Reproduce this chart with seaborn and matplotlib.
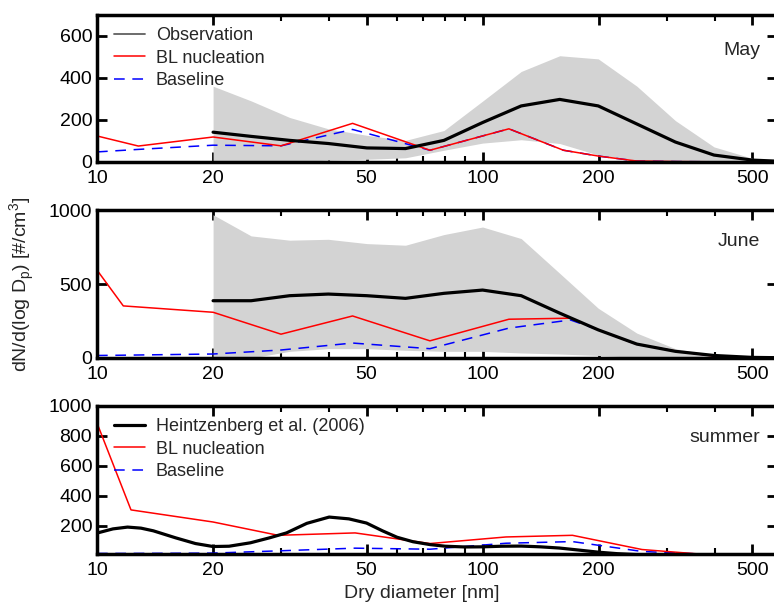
import numpy as np
import pandas as pd
import matplotlib
matplotlib.use('Agg')
import matplotlib.pyplot as plt
from matplotlib.lines import Line2D
from matplotlib.ticker import FixedLocator, NullFormatter, FixedFormatter
import seaborn as sns

sns.set_style('ticks')
plt.rcParams['font.family'] = ['Liberation Sans', 'DejaVu Sans']

# observation grid (May / June)
obs_d = [20, 25.1, 31.6, 39.8, 50.1, 63.1, 79.4, 100, 125.9, 158.5, 199.5, 251.2, 316.2, 398.1, 501.2, 631]

may_obs = [142, 122, 103, 88, 67, 64, 103, 188, 267, 298, 267, 181, 95, 33, 9, 1]
may_hi = [361, 291, 212, 158, 127, 103, 150, 290, 431, 506, 491, 361, 197, 72, 17, 3]
may_lo = [0, 0, 0, 9, 13, 20, 56, 90, 106, 88, 33, 9, 0, 0, 0, 0]
may_d = [10, 12.8, 20, 30, 46, 73, 117, 162, 200, 250, 320, 400, 500, 631]
may_bl = [124, 76, 119, 77, 184, 56, 158, 56, 28, 5, 2, 1, 0, 0]
may_base = [48, 60, 80, 77, 155, 56, 158, 56, 28, 5, 2, 1, 0, 0]

june_obs = [387, 387, 421, 432, 421, 403, 437, 459, 421, 303, 190, 94, 45, 17, 4, 1]
june_hi = [968, 825, 796, 802, 773, 762, 834, 885, 807, 572, 336, 168, 63, 17, 4, 1]
june_lo = [0, 0, 45, 63, 63, 52, 45, 45, 34, 27, 17, 5, 2, 0, 0, 0]
june_d = [10, 11.7, 20, 30, 46, 73, 117, 169, 200, 250, 320, 400, 500, 631]
june_bl = [594, 352, 309, 161, 284, 116, 262, 269, 190, 94, 45, 12, 0, 0]
june_base = [17, 19, 27, 54, 101, 63, 202, 257, 190, 94, 45, 12, 0, 0]

# summer
sum_d = [10, 12.25, 20, 29.5, 46.7, 73, 115, 171, 259, 360]
sum_bl = [886, 305, 224, 135, 151, 80, 124, 135, 40, 11]
sum_base = [14, 14, 16, 31, 49, 42, 82, 93, 27, 11]
heintz_d = [10, 11, 12, 13, 14, 16, 18, 20, 22, 25, 28, 31, 35, 40, 45, 50, 55, 60, 66, 73,
            80, 90, 100, 112, 126, 141, 158, 178, 200, 224, 250]
heintz = [150, 178, 190, 183, 165, 118, 80, 60, 62, 85, 118, 151, 215, 257, 245, 217, 165, 122, 92, 73,
          62, 57, 58, 62, 63, 58, 50, 36, 22, 12, 6]

major_x = [10, 20, 50, 100, 200, 500]
minor_x = [30, 40, 60, 70, 80, 90, 300, 400]

fig = plt.figure(figsize=(7.74, 6.06), dpi=100)
W, H = 774, 606
left = 97 / W
width = 680 / W
ax1 = fig.add_axes([left, 1 - 162 / H, width, 147 / H])
ax2 = fig.add_axes([left, 1 - 358 / H, width, 148 / H])
ax3 = fig.add_axes([left, 1 - 554 / H, width, 148 / H])

gray = '#d3d3d3'
lw_obs = 2.3
lw_mod = 1.1
dash = (0, (7, 5))


def style(ax, ymin, ymax, yticks):
    ax.set_xscale('log')
    ax.set_xlim(10, 580)
    ax.set_ylim(ymin, ymax)
    ax.xaxis.set_major_locator(FixedLocator(major_x))
    ax.xaxis.set_major_formatter(FixedFormatter([str(v) for v in major_x]))
    ax.xaxis.set_minor_locator(FixedLocator(minor_x))
    ax.xaxis.set_minor_formatter(NullFormatter())
    ax.set_yticks(yticks)
    ax.set_yticklabels([str(v) for v in yticks])
    ax.tick_params(which='both', direction='in', top=True, right=True, labelsize=14, colors='black')
    ax.tick_params(which='major', length=7, width=2)
    ax.tick_params(which='minor', length=4, width=1.5)
    ax.tick_params(axis='x', pad=6)
    for s in ax.spines.values():
        s.set_linewidth(2.5)
        s.set_color('black')
    ax.set_xlabel('')
    ax.set_ylabel('')


leg_kw = dict(loc='upper left', frameon=False, fontsize=13, handlelength=1.7, handletextpad=0.6,
              labelspacing=0.3, borderaxespad=0.0, bbox_to_anchor=(0.015, 0.965))

# May
ax1.fill_between(obs_d, may_lo, may_hi, color=gray, lw=0)
sns.lineplot(x=may_d, y=may_base, ax=ax1, color='blue', lw=lw_mod, linestyle=dash)
sns.lineplot(x=may_d, y=may_bl, ax=ax1, color='red', lw=lw_mod)
sns.lineplot(x=obs_d, y=may_obs, ax=ax1, color='black', lw=lw_obs)
style(ax1, 0, 700, [0, 200, 400, 600])
ax1.text(0.975, 0.76, 'May', transform=ax1.transAxes, ha='right', va='center', fontsize=14)
h1 = [Line2D([], [], color='#606060', lw=1.3),
      Line2D([], [], color='red', lw=lw_mod),
      Line2D([], [], color='blue', lw=lw_mod, linestyle=dash)]
ax1.legend(h1, ['Observation', 'BL nucleation', 'Baseline'], **leg_kw)

# June
ax2.fill_between(obs_d, june_lo, june_hi, color=gray, lw=0)
sns.lineplot(x=june_d, y=june_base, ax=ax2, color='blue', lw=lw_mod, linestyle=dash)
sns.lineplot(x=june_d, y=june_bl, ax=ax2, color='red', lw=lw_mod)
sns.lineplot(x=obs_d, y=june_obs, ax=ax2, color='black', lw=lw_obs)
style(ax2, 0, 1000, [0, 500, 1000])
ax2.text(0.975, 0.79, 'June', transform=ax2.transAxes, ha='right', va='center', fontsize=14)

# summer
sns.lineplot(x=sum_d, y=sum_base, ax=ax3, color='blue', lw=lw_mod, linestyle=dash)
sns.lineplot(x=sum_d, y=sum_bl, ax=ax3, color='red', lw=lw_mod)
sns.lineplot(x=heintz_d, y=heintz, ax=ax3, color='black', lw=lw_obs)
style(ax3, 10, 1000, [200, 400, 600, 800, 1000])
ax3.text(0.975, 0.79, 'summer', transform=ax3.transAxes, ha='right', va='center', fontsize=14)
h3 = [Line2D([], [], color='black', lw=lw_obs),
      Line2D([], [], color='red', lw=lw_mod),
      Line2D([], [], color='blue', lw=lw_mod, linestyle=dash)]
ax3.legend(h3, ['Heintzenberg et al. (2006)', 'BL nucleation', 'Baseline'], **leg_kw)

fig.text(22 / W, 1 - 284 / H, 'dN/d(log D$_\\mathregular{p}$) [#/cm$^\\mathregular{3}$]',
         rotation=90, ha='center', va='center', fontsize=14)
fig.text(422 / W, 1 - 594 / H, 'Dry diameter [nm]', ha='center', va='center', fontsize=14)

fig.savefig('out.png', dpi=100)
